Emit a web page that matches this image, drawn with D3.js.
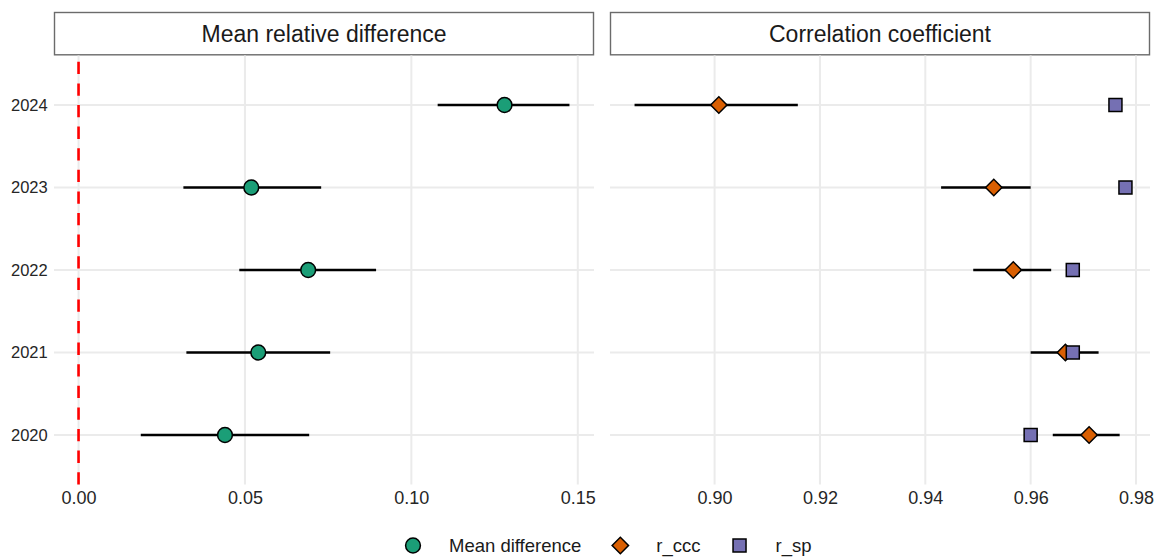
<!DOCTYPE html>
<html>
<head>
<meta charset="utf-8">
<script src="https://cdn.jsdelivr.net/npm/d3@7"></script>
<style>
  html, body { margin: 0; padding: 0; background: #ffffff; }
  svg { display: block; font-family: "Liberation Sans", Arial, sans-serif; }
</style>
</head>
<body>
<svg id="chart" width="1156" height="557"></svg>
<script>
// ---------------- data ----------------
const years = ["2020", "2021", "2022", "2023", "2024"];

// Mean relative difference panel
const meanDiff     = [0.0440, 0.0540, 0.0690, 0.0519, 0.1280];
const meanDiffLow  = [0.0187, 0.0324, 0.0483, 0.0315, 0.1079];
const meanDiffHigh = [0.0693, 0.0756, 0.0894, 0.0729, 0.1475];

// Correlation coefficient panel
const rccc     = [0.9711, 0.9666, 0.9567, 0.9530, 0.9008];
const rcccLow  = [0.9642, 0.9600, 0.9491, 0.9430, 0.8848];
const rcccHigh = [0.9769, 0.9729, 0.9639, 0.9600, 0.9158];
const rsp      = [0.9600, 0.9680, 0.9680, 0.9780, 0.9761];

const leftTicks  = [0.00, 0.05, 0.10, 0.15];
const rightTicks = [0.90, 0.92, 0.94, 0.96, 0.98];

const panelTitles = ["Mean relative difference", "Correlation coefficient"];
const legendLabels = ["Mean difference", "r_ccc", "r_sp"];
const colors = { mean: "#1B9E77", ccc: "#D95F02", sp: "#7570B3" };

// ---------------- layout ----------------
const svg = d3.select("#chart");
const panelTop = 55.5, panelBottom = 484.5;
const panels = [
  { x0: 54, x1: 594 },
  { x0: 610, x1: 1150 }
];
const stripTop = 12, stripBottom = 55.3;

function expanded(lo, hi) {
  const pad = (hi - lo) * 0.05;
  return [lo - pad, hi + pad];
}

const leftDomain = expanded(Math.min(0, d3.min(meanDiffLow)), d3.max(meanDiffHigh));
const rightDomain = expanded(d3.min([...rcccLow, ...rsp]), d3.max([...rcccHigh, ...rsp]));

const xL = d3.scaleLinear().domain(leftDomain).range([panels[0].x0, panels[0].x1]);
const xR = d3.scaleLinear().domain(rightDomain).range([panels[1].x0, panels[1].x1]);
const y = d3.scalePoint().domain(years.slice().reverse()).range([panelTop, panelBottom]).padding(0.6);

const gridColor = "#ebebeb";

// ---------------- strips ----------------
panels.forEach((p, i) => {
  svg.append("rect")
    .attr("x", p.x0 + 0.5).attr("y", stripTop + 0.5)
    .attr("width", p.x1 - p.x0 - 1).attr("height", stripBottom - stripTop - 1)
    .attr("fill", "#ffffff").attr("stroke", "#6b6b6b").attr("stroke-width", 1.4);
  svg.append("text")
    .attr("x", (p.x0 + p.x1) / 2).attr("y", 42)
    .attr("text-anchor", "middle")
    .attr("font-size", "23px").attr("fill", "#1a1a1a")
    .text(panelTitles[i]);
});

// ---------------- grid ----------------
function drawGrid(xs, ticks, p) {
  const g = svg.append("g");
  g.selectAll("line.h").data(years).join("line")
    .attr("x1", p.x0).attr("x2", p.x1)
    .attr("y1", d => y(d)).attr("y2", d => y(d))
    .attr("stroke", gridColor).attr("stroke-width", 2);
  g.selectAll("line.v").data(ticks).join("line")
    .attr("x1", d => xs(d)).attr("x2", d => xs(d))
    .attr("y1", panelTop).attr("y2", panelBottom)
    .attr("stroke", gridColor).attr("stroke-width", 2);
}
drawGrid(xL, leftTicks, panels[0]);
drawGrid(xR, rightTicks, panels[1]);

// ---------------- axes ----------------
function styleAxis(g, size) {
  g.select(".domain").remove();
  g.selectAll(".tick line").remove();
  g.selectAll("text").attr("font-size", size).attr("fill", "#262626")
    .attr("font-family", "'Liberation Sans', Arial, sans-serif");
}
svg.append("g").attr("transform", `translate(0,${panelBottom})`)
  .call(d3.axisBottom(xL).tickValues(leftTicks).tickFormat(d3.format(".2f")).tickSize(0).tickPadding(7))
  .call(g => styleAxis(g, "18px"));
svg.append("g").attr("transform", `translate(0,${panelBottom})`)
  .call(d3.axisBottom(xR).tickValues(rightTicks).tickFormat(d3.format(".2f")).tickSize(0).tickPadding(7))
  .call(g => styleAxis(g, "18px"));
svg.append("g").attr("transform", `translate(${panels[0].x0},0)`)
  .call(d3.axisLeft(y).tickSize(0).tickPadding(6.3))
  .call(g => styleAxis(g, "16.5px"));

// ---------------- reference line ----------------
svg.append("line")
  .attr("x1", xL(0)).attr("x2", xL(0))
  .attr("y1", panelBottom).attr("y2", panelTop)
  .attr("stroke", "#ff0000").attr("stroke-width", 2.6)
  .attr("stroke-dasharray", "12.3,9.3");

// ---------------- marks ----------------
const circleSym = d3.symbol().type(d3.symbolCircle).size(Math.PI * 7.4 * 7.4);
const squareSym = d3.symbol().type(d3.symbolSquare).size(13 * 13);
const diamondSym = d3.symbol().type(d3.symbolSquare).size(11.6 * 11.6);

// left panel
svg.append("g").selectAll("line").data(years).join("line")
  .attr("x1", (d, i) => xL(meanDiffLow[i])).attr("x2", (d, i) => xL(meanDiffHigh[i]))
  .attr("y1", d => y(d)).attr("y2", d => y(d))
  .attr("stroke", "#000").attr("stroke-width", 2.7);
svg.append("g").selectAll("path").data(years).join("path")
  .attr("d", circleSym)
  .attr("transform", (d, i) => `translate(${xL(meanDiff[i])},${y(d)})`)
  .attr("fill", colors.mean).attr("stroke", "#000").attr("stroke-width", 1.5);

// right panel
svg.append("g").selectAll("line").data(years).join("line")
  .attr("x1", (d, i) => xR(rcccLow[i])).attr("x2", (d, i) => xR(rcccHigh[i]))
  .attr("y1", d => y(d)).attr("y2", d => y(d))
  .attr("stroke", "#000").attr("stroke-width", 2.7);
svg.append("g").selectAll("path").data(years).join("path")
  .attr("d", diamondSym)
  .attr("transform", (d, i) => `translate(${xR(rccc[i])},${y(d)}) rotate(45)`)
  .attr("fill", colors.ccc).attr("stroke", "#000").attr("stroke-width", 1.5);
svg.append("g").selectAll("path").data(years).join("path")
  .attr("d", squareSym)
  .attr("transform", (d, i) => `translate(${xR(rsp[i])},${y(d)})`)
  .attr("fill", colors.sp).attr("stroke", "#000").attr("stroke-width", 1.5);

// ---------------- legend ----------------
const legendItems = [
  { label: legendLabels[0], sym: circleSym, fill: colors.mean, rot: 0 },
  { label: legendLabels[1], sym: diamondSym, fill: colors.ccc, rot: 45 },
  { label: legendLabels[2], sym: squareSym, fill: colors.sp, rot: 0 }
];
const legendY = 545.5;
let lx = 413;
legendItems.forEach(item => {
  svg.append("path")
    .attr("d", item.sym)
    .attr("transform", `translate(${lx},${legendY}) rotate(${item.rot})`)
    .attr("fill", item.fill).attr("stroke", "#000").attr("stroke-width", 1.5);
  const t = svg.append("text")
    .attr("x", lx + 36).attr("y", legendY + 6.5)
    .attr("font-size", "18.5px").attr("fill", "#1a1a1a")
    .text(item.label);
  const w = t.node().getComputedTextLength();
  lx = lx + 36 + w + 39;
});
</script>
</body>
</html>
